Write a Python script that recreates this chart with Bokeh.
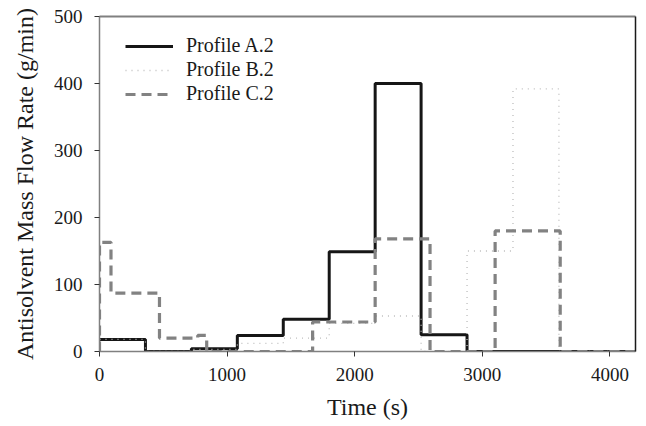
from bokeh.plotting import figure
from bokeh.models import Legend, LegendItem, LinearAxis, FixedTicker
from bokeh.embed import file_html
from bokeh.resources import INLINE

# Data (step profiles: value holds from t[i] to t[i+1])
a_time = [0, 360, 720, 1080, 1440, 1800, 2160, 2520, 2880, 4200]
a_rate = [18, 0, 4, 24, 48, 149, 400, 25, 0, 0]

b_time = [0, 360, 720, 1080, 1440, 1800, 2160, 2520, 2880, 3240, 3600, 4200]
b_rate = [18, 0, 3, 12, 20, 42, 53, 0, 150, 392, 0, 0]

c_time = [0, 0, 90, 470, 770, 840, 1670, 2160, 2590, 3100, 3610, 4200]
c_rate = [0, 163, 87, 20, 24, 0, 44, 168, 0, 180, 0, 0]

x_ticks = [0, 1000, 2000, 3000, 4000]
y_ticks = [0, 100, 200, 300, 400, 500]

FONT = "Liberation Serif"

p = figure(width=638, height=420, frame_width=536, frame_height=335,
           x_range=(0, 4200), y_range=(0, 500),
           output_backend="svg", toolbar_location=None,
           min_border_left=99, min_border_right=3, min_border_top=16, min_border_bottom=69)
p.outline_line_color = None
p.grid.visible = False
p.background_fill_color = "white"

ra = p.step(a_time, a_rate, mode="after", line_color="#161616", line_width=3)
rb = p.step(b_time, b_rate, mode="after", line_color="#bdbdbd", line_width=1.3, line_dash="1 5")
rc = p.step(c_time, c_rate, mode="after", line_color="#828282", line_width=3.2, line_dash="10 6")

for ax in (p.xaxis[0], p.yaxis[0]):
    ax.axis_line_color = "#808080"
    ax.axis_line_width = 1.5
    ax.major_tick_line_color = "#333333"
    ax.major_tick_line_width = 1
    ax.major_tick_in = 0
    ax.major_tick_out = 5
    ax.minor_tick_line_color = None
    ax.major_label_text_font = FONT
    ax.major_label_text_font_size = "19px"
    ax.major_label_text_color = "#1a1a1a"
    ax.axis_label_text_font = FONT
    ax.axis_label_text_font_size = "24px"
    ax.axis_label_text_font_style = "normal"
    ax.axis_label_text_color = "#1a1a1a"

p.xaxis[0].ticker = FixedTicker(ticks=x_ticks)
p.yaxis[0].ticker = FixedTicker(ticks=y_ticks)
p.xaxis[0].axis_label = "Time (s)"
p.yaxis[0].axis_label = "Antisolvent Mass Flow Rate (g/min)"
p.xaxis[0].major_label_standoff = 11
p.yaxis[0].major_label_standoff = 12
p.xaxis[0].axis_label_standoff = 10
p.yaxis[0].axis_label_standoff = 13

top = LinearAxis(major_tick_line_color=None, minor_tick_line_color=None,
                 major_label_text_font_size="0px", axis_line_color="#808080", axis_line_width=2)
top.ticker = FixedTicker(ticks=[])
p.add_layout(top, "above")
right = LinearAxis(major_tick_line_color=None, minor_tick_line_color=None,
                   major_label_text_font_size="0px", axis_line_color="#1a1a1a", axis_line_width=1.5)
right.ticker = FixedTicker(ticks=[])
p.add_layout(right, "right")

legend = Legend(items=[LegendItem(label="Profile A.2", renderers=[ra]),
                       LegendItem(label="Profile B.2", renderers=[rb]),
                       LegendItem(label="Profile C.2", renderers=[rc])],
                location=(26, 246), margin=0, padding=0, spacing=1,
                glyph_width=48, glyph_height=22, label_height=22, label_standoff=13,
                label_text_font=FONT, label_text_font_size="20px", label_text_color="#1a1a1a",
                background_fill_alpha=0, border_line_color=None)
p.add_layout(legend, "center")

open("out.html", "w").write(file_html(p, INLINE))
